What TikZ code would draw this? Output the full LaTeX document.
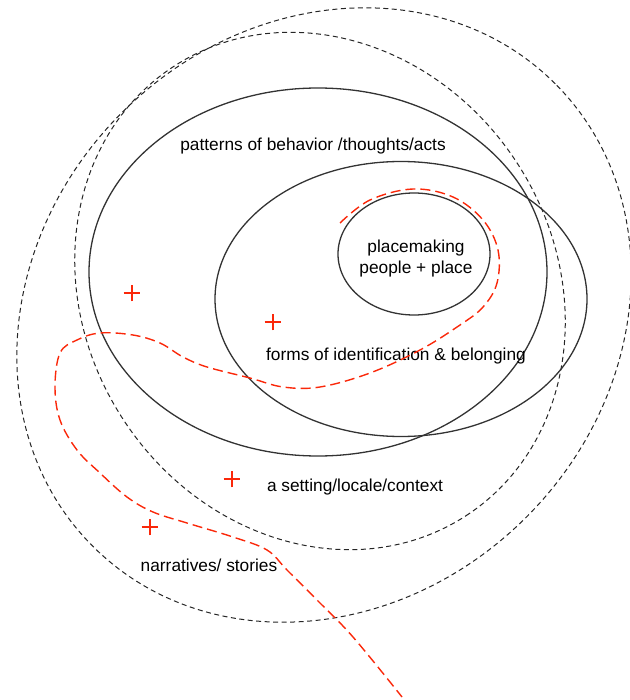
\documentclass[tikz,border=0pt]{standalone}
\usepackage{fontspec}
\setmainfont{Liberation Sans}
\usetikzlibrary{shapes.geometric, shapes.misc}
\definecolor{pinred}{RGB}{250,40,10}
\tikzset{
  ring/.style 2 args={draw=black!80, ellipse, line width=1.3pt, inner sep=0pt, minimum width=#1, minimum height=#2},
  dashring/.style 2 args={draw=black!85, ellipse, line width=1pt, dash pattern=on 5pt off 3.5pt, inner sep=0pt, minimum width=#1, minimum height=#2},
  tag/.style={font=\fontsize{17.3}{21}\selectfont, inner sep=0pt},
  plussign/.style={cross out, draw=pinred, line width=2pt, rotate=45, minimum size=10pt, inner sep=0pt},
  trail/.style={draw=pinred, line width=1.4pt, dash pattern=on 10pt off 5pt},
}
\begin{document}
\begin{tikzpicture}[x=1pt, y=-1pt]
  \useasboundingbox (0,0) rectangle (629,700);
  % dashed outer rings
  \node[dashring={654pt}{572pt}, rotate=45] (stories) at (324,315) {};
  \node[dashring={536pt}{470pt}, rotate=-57] (setting) at (320,291) {};
  % solid rings
  \node[ring={458pt}{368pt}] (behavior) at (318,272) {};
  \node[ring={372pt}{275pt}] (belonging) at (401,299) {};
  \node[ring={152pt}{122pt}] (core) at (414,254) {};
  % labels
  \node[tag] (behaviortxt) at (313,146) {patterns of behavior /thoughts/acts};
  \node[tag, align=center] (coretxt) at (416,259) {placemaking\\people + place};
  \node[tag] (belongingtxt) at (396,356) {forms of identification \& belonging};
  \node[tag] (settingtxt) at (355,487) {a setting/locale/context};
  \node[tag] (storiestxt) at (209,565) {narratives/ stories};
  % red markers
  \node[plussign] (plusA) at (132,293) {};
  \node[plussign] (plusB) at (273,322) {};
  \node[plussign] (plusC) at (232,479) {};
  \node[plussign] (plusD) at (150,527) {};
  % red trail
  \draw[trail] plot[smooth, tension=0.6] coordinates {(340,223) (370,200) (413,189) (453,197)
    (483,220) (498,250) (497,283) (483,307) (460,325) (420,350) (370,373) (320,387)
    (283,387) (250,378) (207,367) (183,357) (160,343) (133,335) (100,333) (77,340)
    (60,353) (55,387) (60,420) (77,450) (100,473) (127,497) (153,512) (187,523)
    (233,537) (267,550) (287,570) (317,600) (353,637) (402,697)};
\end{tikzpicture}
\end{document}
